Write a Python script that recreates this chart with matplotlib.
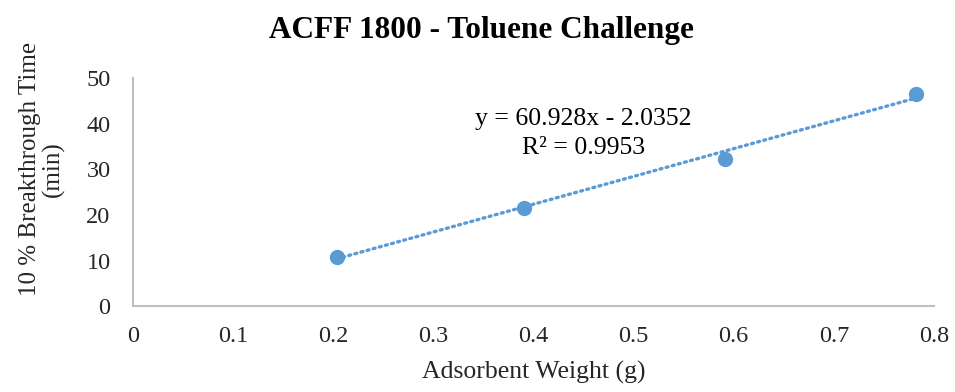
import matplotlib
matplotlib.use("Agg")
import matplotlib.pyplot as plt
import numpy as np

plt.rcParams['font.family'] = ['Liberation Serif', 'DejaVu Serif']

# Adsorbent weight (g) vs 10 % breakthrough time (min)
weight_g = [0.2035, 0.3906, 0.591, 0.782]
breakthrough_min = [10.7, 21.6, 32.2, 46.4]

# Linear trendline coefficients and fit quality
slope = 60.928
intercept = -2.0352
r_squared = 0.9953

x_ticks = [0, 0.1, 0.2, 0.3, 0.4, 0.5, 0.6, 0.7, 0.8]
x_tick_labels = ["0", "0.1", "0.2", "0.3", "0.4", "0.5", "0.6", "0.7", "0.8"]
y_ticks = [0, 10, 20, 30, 40, 50]

blue = "#5B9BD5"
axis_gray = "#BFBFBF"
text_gray = "#262626"

fig = plt.figure(figsize=(9.55, 3.92), dpi=100)
ax = fig.add_axes([0.139, 0.219, 0.839, 0.582])

# Trendline across the data range
tx = np.array([min(weight_g), max(weight_g)])
ax.plot(tx, slope * tx + intercept, linestyle=(0, (0.6, 1.3)), color=blue,
        linewidth=2.4, dash_capstyle="round", zorder=2)
ax.plot(weight_g, breakthrough_min, linestyle="none", marker="o",
        markersize=10, color=blue, zorder=3)

ax.set_xlim(0, 0.8)
ax.set_ylim(0, 50)
ax.set_xticks(x_ticks)
ax.set_xticklabels(x_tick_labels)
ax.set_yticks(y_ticks)

for side in ("top", "right"):
    ax.spines[side].set_visible(False)
for side in ("left", "bottom"):
    ax.spines[side].set_color(axis_gray)
    ax.spines[side].set_linewidth(1.5)

ax.tick_params(axis="both", length=0, labelsize=17.5, colors=text_gray)
ax.tick_params(axis="x", pad=14)
ax.tick_params(axis="y", pad=16)

ax.set_xlabel("Adsorbent Weight (g)", fontsize=18.5, color=text_gray)
ax.xaxis.set_label_coords(0.5, -0.24)
ax.set_ylabel("10 % Breakthrough Time\n(min)", fontsize=18, color=text_gray,
              linespacing=1.05)
ax.yaxis.set_label_coords(-0.085, 0.6)

fig.text(0.504, 0.903, "ACFF 1800 - Toluene Challenge", fontsize=22.5,
         fontweight="bold", color="black", ha="center", va="baseline")

ax.text(0.45, 41.0, f"y = {slope}x - {abs(intercept)}", ha="center",
        va="center", fontsize=18.5, color="black")
ax.text(0.45, 34.6, f"R² = {r_squared}", ha="center", va="center",
        fontsize=18.5, color="black")

fig.savefig("out.png", dpi=100)
